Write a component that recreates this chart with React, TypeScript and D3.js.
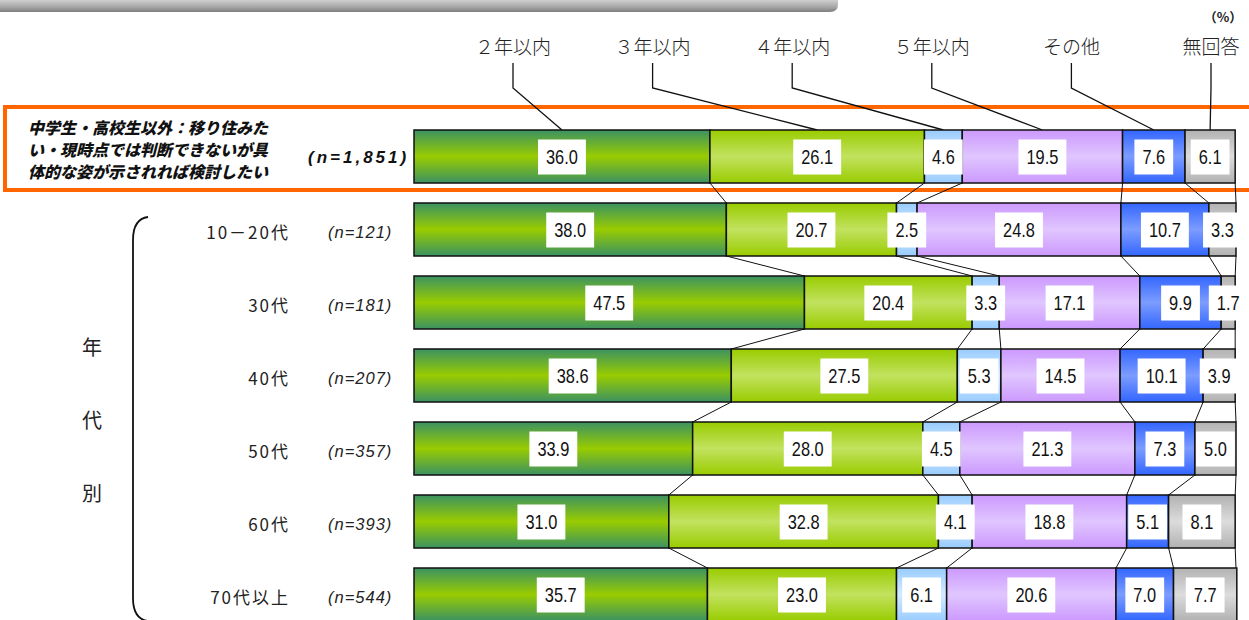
import React, { useRef, useEffect } from 'react';
import * as d3 from 'd3';

// rows (top row = overall, then age groups)
const rowLabels = ['', '10－20代', '30代', '40代', '50代', '60代', '70代以上'];
const sampleSizes = ['(n=1,851)', '(n=121)', '(n=181)', '(n=207)', '(n=357)', '(n=393)', '(n=544)'];
const titleLines = ['中学生・高校生以外：移り住みた', 'い・現時点では判断できないが具', '体的な姿が示されれば検討したい'];
const sideLabel = ['年', '代', '別'];

// series
const categories = ['２年以内', '３年以内', '４年以内', '５年以内', 'その他', '無回答'];
const within2 = [36.0, 38.0, 47.5, 38.6, 33.9, 31.0, 35.7];
const within3 = [26.1, 20.7, 20.4, 27.5, 28.0, 32.8, 23.0];
const within4 = [4.6, 2.5, 3.3, 5.3, 4.5, 4.1, 6.1];
const within5 = [19.5, 24.8, 17.1, 14.5, 21.3, 18.8, 20.6];
const other = [7.6, 10.7, 9.9, 10.1, 7.3, 5.1, 7.0];
const noAnswer = [6.1, 3.3, 1.7, 3.9, 5.0, 8.1, 7.7];

// edge / middle colours of each segment's vertical gradient
const edgeColors = ['#3b9262', '#99cc00', '#99ccff', '#cc99ff', '#3366ff', '#b2b2b2'];
const midColors = ['#99cc00', '#c2e260', '#d4ebff', '#e0c6ff', '#7c9cff', '#dcdcdc'];

const series = [within2, within3, within4, within5, other, noAnswer];

function App() {
  const svgRef = useRef<SVGSVGElement>(null);

  useEffect(() => {
    const svg = d3.select(svgRef.current);
    svg.selectAll('*').remove();

    const rows = rowLabels.map((_, i) => i);
    const data = rows.map((r) => {
      let acc = 0;
      return categories.map((c, k) => {
        const v = series[k][r];
        const seg = { row: r, k, v, x0: acc, x1: acc + v };
        acc += v;
        return seg;
      });
    });

    const x = d3.scaleLinear().domain([0, 100]).range([414, 1236]);
    const y = d3
      .scaleBand<number>()
      .domain(rows)
      .range([130, 621])
      .paddingInner(20 / 73)
      .paddingOuter(0);
    const bh = y.bandwidth();

    const defs = svg.append('defs');
    categories.forEach((c, k) => {
      const g = defs
        .append('linearGradient')
        .attr('id', 'grad' + k)
        .attr('x1', 0).attr('y1', 0).attr('x2', 0).attr('y2', 1);
      g.append('stop').attr('offset', '0%').attr('stop-color', edgeColors[k]);
      g.append('stop').attr('offset', '50%').attr('stop-color', midColors[k]);
      g.append('stop').attr('offset', '100%').attr('stop-color', edgeColors[k]);
    });
    const gg = defs
      .append('linearGradient')
      .attr('id', 'topbar')
      .attr('x1', 0).attr('y1', 0).attr('x2', 0).attr('y2', 1);
    gg.append('stop').attr('offset', '0%').attr('stop-color', '#cfcfcf');
    gg.append('stop').attr('offset', '55%').attr('stop-color', '#a9a9a9');
    gg.append('stop').attr('offset', '100%').attr('stop-color', '#7f7f7f');

    // gray header bar
    svg.append('path')
      .attr('d', 'M0,0 H838 V4 Q838,12 830,12 H0 Z')
      .attr('fill', 'url(#topbar)');

    // orange frame around the overall row
    svg.append('rect')
      .attr('x', 5).attr('y', 107)
      .attr('width', 1260).attr('height', 83)
      .attr('fill', 'none')
      .attr('stroke', '#ff6600')
      .attr('stroke-width', 4);

    // (%)
    svg.append('text')
      .attr('x', 1223).attr('y', 22)
      .attr('text-anchor', 'middle')
      .attr('font-family', "'Noto Sans CJK JP', sans-serif")
      .attr('font-size', 13)
      .attr('font-weight', 'bold')
      .attr('fill', '#222')
      .text('（%）');

    // legend labels + leader lines
    const lx = d3.scalePoint<string>().domain(categories).range([513, 1211]);
    svg.selectAll('.legend')
      .data(categories)
      .join('text')
      .attr('class', 'legend')
      .attr('x', (d) => lx(d)!)
      .attr('y', 54)
      .attr('text-anchor', 'middle')
      .attr('font-family', "'Noto Sans CJK JP', sans-serif")
      .attr('font-weight', 300)
      .attr('font-size', 19)
      .attr('fill', '#222')
      .text((d) => d);

    svg.selectAll('.leader')
      .data(data[0])
      .join('polyline')
      .attr('class', 'leader')
      .attr('points', (d) => {
        const px = lx(categories[d.k])!;
        const cx = x((d.x0 + d.x1) / 2);
        return `${px},63 ${px},88 ${cx},${y(0)}`;
      })
      .attr('fill', 'none')
      .attr('stroke', '#111')
      .attr('stroke-width', 1.3);

    // connectors between rows
    const links: { a: number; b: number; r: number }[] = [];
    rows.slice(0, -1).forEach((r) => {
      categories.forEach((c, k) => {
        links.push({ a: data[r][k].x1, b: data[r + 1][k].x1, r });
      });
    });
    svg.selectAll('.link')
      .data(links)
      .join('line')
      .attr('class', 'link')
      .attr('x1', (d) => x(Math.min(d.a, 100)))
      .attr('x2', (d) => x(Math.min(d.b, 100)))
      .attr('y1', (d) => y(d.r)! + bh)
      .attr('y2', (d) => y(d.r + 1)!)
      .attr('stroke', '#111')
      .attr('stroke-width', 1);

    // segments
    const segs = data.flat();
    svg.selectAll('.seg')
      .data(segs)
      .join('rect')
      .attr('class', 'seg')
      .attr('x', (d) => x(d.x0))
      .attr('y', (d) => y(d.row)!)
      .attr('width', (d) => x(d.x1) - x(d.x0))
      .attr('height', bh)
      .attr('fill', (d) => `url(#grad${d.k})`)
      .attr('stroke', '#111')
      .attr('stroke-width', 1.5);

    // value labels with white boxes (text squeezed to look condensed)
    const sx = 0.82;
    const lab = svg.selectAll('.val')
      .data(segs)
      .join('g')
      .attr('class', 'val')
      .attr('transform', (d) => `translate(${x((d.x0 + d.x1) / 2)},${y(d.row)! + bh / 2})`);
    lab.append('rect').attr('fill', '#fff');
    lab.append('text')
      .attr('text-anchor', 'middle')
      .attr('dy', '0.36em')
      .attr('transform', `scale(${sx},1)`)
      .attr('font-family', "'Liberation Sans', Arial, sans-serif")
      .attr('font-size', 20)
      .attr('fill', '#111')
      .text((d) => d.v.toFixed(1));
    lab.each(function () {
      const g = d3.select(this);
      const w = (g.select('text').node() as SVGTextElement).getComputedTextLength() * sx;
      g.select('rect')
        .attr('x', -w / 2 - 8)
        .attr('y', -17)
        .attr('width', w + 16)
        .attr('height', 35);
    });

    // left labels
    svg.selectAll('.rowlab')
      .data(rows.slice(1))
      .join('text')
      .attr('class', 'rowlab')
      .attr('x', 290)
      .attr('y', (r) => y(r)! + bh / 2 + 3)
      .attr('dy', '0.36em')
      .attr('text-anchor', 'end')
      .attr('font-family', "'Noto Sans CJK JP', sans-serif")
      .attr('font-size', 17)
      .attr('letter-spacing', 2)
      .attr('fill', '#222')
      .text((r) => rowLabels[r]);

    svg.selectAll('.nlab')
      .data(rows.slice(1))
      .join('text')
      .attr('class', 'nlab')
      .attr('x', 328)
      .attr('y', (r) => y(r)! + bh / 2 + 3)
      .attr('dy', '0.36em')
      .attr('font-family', "'Liberation Sans', Arial, sans-serif")
      .attr('font-style', 'italic')
      .attr('font-size', 16.5)
      .attr('letter-spacing', 1)
      .attr('fill', '#222')
      .text((r) => sampleSizes[r]);

    // overall row labels
    svg.append('text')
      .attr('x', 308)
      .attr('y', y(0)! + bh / 2)
      .attr('dy', '0.36em')
      .attr('font-family', "'Liberation Sans', Arial, sans-serif")
      .attr('font-style', 'italic')
      .attr('font-weight', 'bold')
      .attr('font-size', 17)
      .attr('letter-spacing', 3)
      .attr('fill', '#111')
      .text(sampleSizes[0]);

    svg.selectAll('.title')
      .data(titleLines)
      .join('text')
      .attr('class', 'title')
      .attr('x', 28)
      .attr('y', (d, i) => 128 + i * 22)
      .attr('dy', '0.36em')
      .attr('font-family', "'Noto Sans CJK JP', sans-serif")
      .attr('font-style', 'italic')
      .attr('font-weight', 900)
      .attr('font-size', 16)
      .attr('fill', '#111')
      .text((d) => d);

    // bracket and side label
    svg.append('path')
      .attr('d', 'M148,217 Q133,219 133,240 L133,598 Q133,619 148,621')
      .attr('fill', 'none')
      .attr('stroke', '#111')
      .attr('stroke-width', 1.8);

    svg.selectAll('.side')
      .data(sideLabel)
      .join('text')
      .attr('class', 'side')
      .attr('x', 92)
      .attr('y', (d, i) => 348 + i * 73)
      .attr('dy', '0.36em')
      .attr('text-anchor', 'middle')
      .attr('font-family', "'Noto Sans CJK JP', sans-serif")
      .attr('font-size', 20)
      .attr('fill', '#222')
      .text((d) => d);
  }, []);

  return (
    <svg
      ref={svgRef}
      width={1249}
      height={620}
      style={{ position: 'absolute', left: 0, top: 0, background: '#fff' }}
    ></svg>
  );
}

export default App;
